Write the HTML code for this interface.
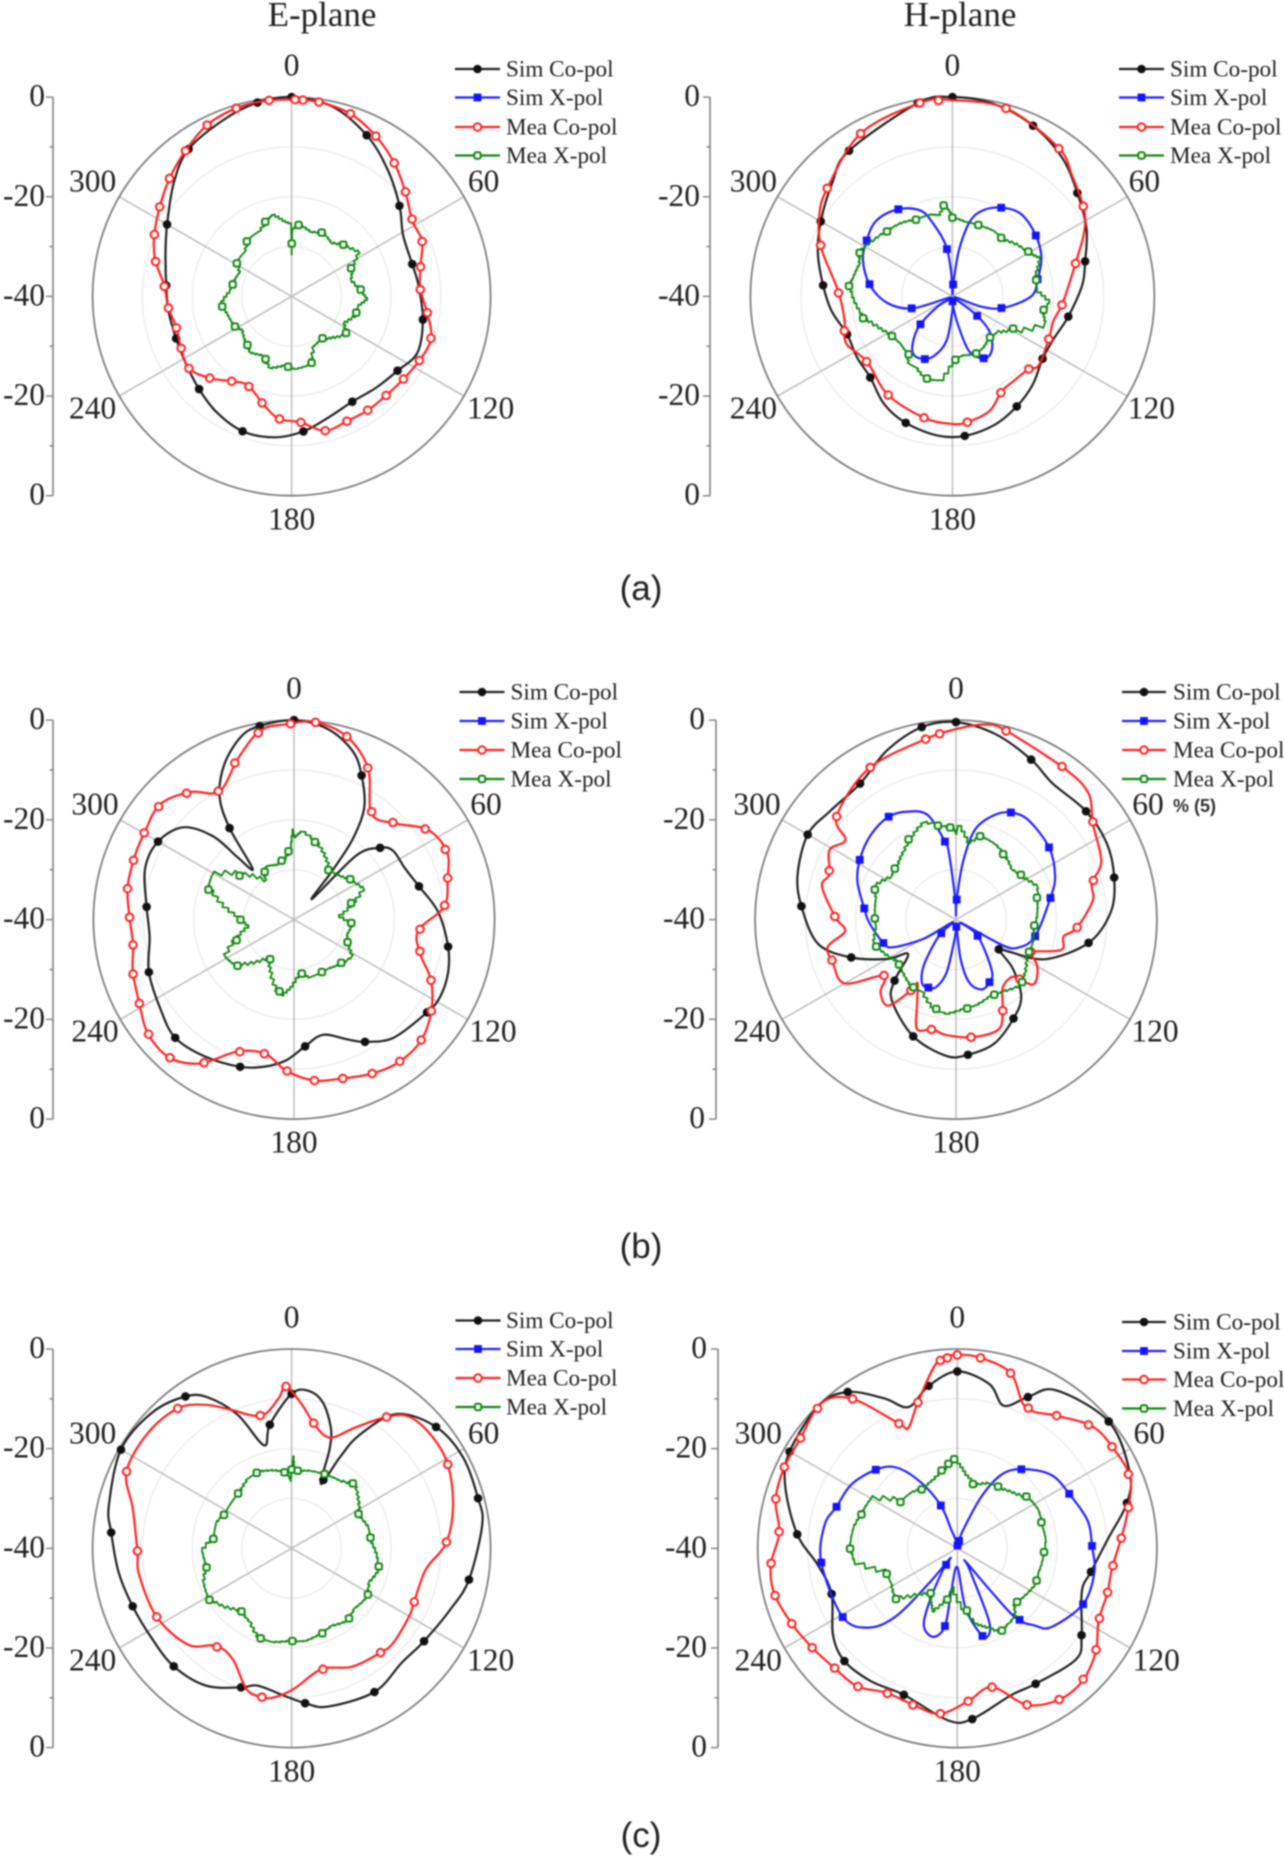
<!DOCTYPE html>
<html>
<head>
<meta charset="utf-8">
<title>E-plane and H-plane radiation patterns</title>
<style>
html,body{margin:0;padding:0;background:#fff;width:1284px;height:1858px;overflow:hidden}
svg{display:block;filter:blur(0.7px)}
text{font-family:"Liberation Serif",serif;fill:#222}
.cap{font-family:"Liberation Sans",sans-serif;font-size:35px;text-anchor:middle;fill:#222}
.title{font-size:35px;text-anchor:middle}
</style>
</head>
<body>
<svg id="fig" xmlns="http://www.w3.org/2000/svg" width="1284" height="1858" viewBox="0 0 1284 1858">
<rect width="1284" height="1858" fill="#fff"/>
<text class="title" x="322" y="26">E-plane</text>
<text class="title" x="960" y="26">H-plane</text>
<text class="cap" x="641" y="600">(a)</text>
<text class="cap" x="641" y="1258">(b)</text>
<text class="cap" x="641" y="1847">(c)</text>
<text x="1173" y="812" style="font-family:'Liberation Sans',sans-serif;font-size:18px;font-weight:bold;fill:#333">% (5)</text>
</svg>
<script>
// Each series: pairs of [angle in degrees, level in dB].
const aSimCo=[[0,0],[12,-1],[25,-4.3],[37,-8],[50,-11.7],[61,-14.4],[75,-14.9],[85,-14.4],[100,-13.2],[114,-12.3],[125,-14],[137,-15],[150,-15.6],[163,-14.6],[175,-12.8],[187,-11.5],[200,-11.2],[213,-12.3],[225,-13.7],[237,-14.8],[250,-15.3],[263,-15.1],[275,-14.7],[289,-13.2],[300,-11.1],[314,-7.1],[325,-3.9],[339,-2],[350,-.5]];
const aMeaCo=[[1,-.5],[8,-.6],[18,-1.5],[28,-3.7],[38,-6.3],[48,-9.1],[58,-11.4],[67,-11.5],[77,-13.4],[87,-14.1],[97,-12.5],[107,-10.7],[117,-11.3],[127,-12.1],[136,-12.5],[146,-12.5],[156,-12.6],[166,-12.2],[176,-14.7],[186,-15.3],[195,-17.7],[206,-20.1],[215,-19.2],[225,-16.8],[235,-14.8],[245,-15.5],[255,-16],[265,-15.1],[275,-14.3],[285,-11.6],[294,-9.8],[304,-8],[314,-5.9],[324,-3.8],[334,-1.6],[344,-.6],[353,-.4]];
const aMeaX=[[0,-31.6],[.3,-28.3],[.6,-26.4],[5.6,-25.6],[15,-26.5],[25.8,-25.8],[35,-26.6],[44.4,-25.4],[55,-23.8],[63,-26.6],[73,-27.6],[84.8,-26],[91,-24.8],[97,-26.5],[104.8,-26.6],[115,-28.2],[124,-26.8],[134,-28.4],[144,-29.6],[155,-29],[164,-25.8],[175,-25.4],[185,-26],[195,-25],[205,-26.8],[215,-26],[224,-27],[234,-28],[243,-27],[253,-26.6],[263,-25.8],[273,-27.5],[283,-28],[293,-28.5],[302,-27],[312,-27],[322,-25.6],[332,-25.4],[342,-23.9],[346,-23.2],[353,-24.8],[359.5,-25.6]];

const bSimCo=[[0,0],[12,-.5],[25,-2.2],[38,-4.7],[50,-7.7],[63,-10.2],[75,-12.8],[85,-14.2],[100,-16.7],[113,-18.2],[125,-18.2],[138,-16.2],[150,-14.5],[162,-12.9],[175,-11.9],[186,-11.9],[200,-13],[212,-14.5],[225,-17],[237,-17.5],[250,-17.8],[263,-15.9],[275,-14.3],[288,-12],[300,-9.9],[314,-7],[325,-4.3],[350,-.6]];
const bSimX=[[0,-39.5],[3,-38],[4,-37.2],[8,-30.6],[13,-24.6],[19,-21.8],[28,-19.8],[39,-18.6],[53,-19.4],[66,-20.7],[78,-22.7],[90,-24.4],[103,-29.7],[110,-34],[118,-39.6],[128,-34.1],[134,-29.7],[144,-26.7],[153,-26],[163,-28.4],[168,-33.4],[174,-37.2],[178,-39.6],[180,-37.2],[187,-31.3],[195,-28.1],[203,-26.3],[213,-26],[220,-27.8],[228,-31.2],[235,-36.2],[240,-39.6],[253,-31.8],[264,-27.1],[278,-23.5],[292,-20.9],[303,-19.7],[315,-18.6],[328,-19.4],[340,-21.7],[346,-25.3],[353,-29.8],[357,-35]];
const bMeaCo=[[0,-.6],[16,-.8],[35,-3.5],[44,-6],[56,-8.6],[64,-11],[75,-14.8],[83,-16.6],[95,-18.3],[104,-19.4],[114,-19.1],[129,-18],[134,-19],[145,-19.1],[153,-18.6],[162,-15.9],[173,-14.6],[180,-14.4],[193,-15],[213,-16.5],[232,-18.6],[245,-17],[252,-17.5],[257,-18.1],[271,-17.6],[280,-15.8],[291,-12.1],[301,-9.2],[311,-7.1],[331,-2.6],[351,-.6]];
const bMeaX=[[0,-24.2],[8,-24.8],[19,-24.8],[30,-24.5],[40,-24.8],[50,-23.4],[60,-22.4],[65,-21.1],[73,-22.8],[79,-23.1],[85,-23.2],[92,-20.8],[99,-21.8],[105,-20.9],[118,-26.3],[127,-28.6],[138,-28.9],[148,-28],[158,-27.6],[168,-28],[177,-27.4],[186,-23],[196,-22.6],[205,-24],[212,-24],[217,-25.6],[226,-26],[236,-25.7],[246,-24],[256,-21.8],[266,-20.5],[276,-19.4],[280,-20],[288,-20.5],[295,-19.6],[305,-20.8],[315,-21.6],[325,-22.2],[334,-23],[344,-23],[350,-23.5],[355,-21.5],[357,-22.6]];

const cSimCo=[[0,0],[10,-1.2],[19,-4.2],[25,-8.1],[32,-13.6],[36,-20.2],[38,-28],[41,-34.5],[44,-22.2],[50,-17.6],[55,-15.9],[65,-15.6],[75,-14.2],[87,-11.2],[100,-8.8],[109,-7.5],[118,-7],[125,-7.6],[140,-9.1],[150,-11.7],[156,-13.7],[166,-16.2],[175,-14.5],[183,-11.8],[191,-10],[200,-8.6],[213,-7.3],[225,-6.5],[236,-7.9],[250,-9.2],[263,-11],[275,-10.5],[289,-8.6],[300,-8.7],[310,-11.2],[316,-16.8],[318,-23.2],[321,-26.9],[325,-17.6],[329,-11.2],[336,-5.9],[344,-1.8],[350,-.6]];
const cMeaCo=[[6,-.2],[16,-1.8],[26,-6.3],[36,-13.7],[46,-12.2],[56,-7.8],[66,-6.6],[75,-8.3],[85,-9.9],[95,-15.1],[105,-14],[114,-10.1],[124,-7],[134,-4.9],[144,-4.6],[153,-5.4],[163,-6.7],[173,-7.5],[183,-9.7],[192,-12.5],[203,-11.3],[213,-5.6],[222,-2.8],[232,-3],[242,-5],[252,-6.2],[261,-7.5],[271,-7.2],[281,-6.2],[292,-5.8],[301,-5.4],[311,-4.7],[321,-7.1],[330,-10.3],[341,-5.8],[350,-1.5],[358,-.8]];
const cMeaX=[[0,-23.5],[4,-22.3],[15,-23.9],[25,-26],[35,-28],[45,-27.3],[54,-26.2],[64,-24.8],[74,-28.2],[84,-31],[94,-28.4],[104,-29],[113,-28.4],[121,-26.3],[134,-27.3],[143,-28],[152,-28.1],[163,-28],[173,-29.2],[181,-26.5],[188,-24.6],[191,-25.2],[202,-28.5],[212,-31],[222,-28],[232,-25],[240,-24.4],[251,-28.1],[260,-30.8],[270,-29.3],[280,-25.5],[290,-21.7],[297,-21.4],[310,-26.4],[322,-30.3],[332,-28],[341,-28.5],[350,-27.8],[357,-25.8],[359,-21.9]];

const dSimCo=[[0,-.4],[12,-2],[25,-4.6],[35,-6.6],[50,-6.2],[63,-6.3],[75,-7.4],[87,-9.1],[100,-13.2],[114,-20.5],[121,-27.3],[125,-29.6],[131,-25],[140,-19.8],[150,-17.1],[163,-14],[175,-12.8],[184,-12.6],[200,-15.1],[218,-19.3],[225,-22.7],[234,-28.2],[240,-24.2],[250,-17.8],[260,-12.1],[275,-9.1],[286,-7.2],[300,-5.9],[311,-6.8],[325,-6.7],[338,-3.4],[350,-.8]];
const dSimX=[[0,-39.2],[2,-36],[7,-28.2],[12,-21.5],[20,-17.7],[27,-15.9],[36,-15.4],[52,-16.5],[66,-18.4],[77,-20.7],[102,-23.9],[114,-26.3],[119,-29.4],[123,-38.8],[127,-34.6],[145,-27.6],[152,-25.8],[160,-25.1],[168,-27],[173,-31.5],[175,-37.3],[178,-39.2],[183,-36.6],[190,-29.3],[196,-26],[202,-25.3],[208,-25.6],[215,-28.9],[226,-35.2],[231,-39.2],[239,-32.7],[246,-26.4],[252,-24.8],[268,-22.7],[277,-21.6],[291,-19],[302,-17.4],[315,-16],[327,-15.4],[336,-16.3],[345,-18.3],[352,-24.2],[354,-26.8],[358,-36]];
const dMeaCo=[[0,-1.8],[9,-.4],[15,-.9],[35,-2.8],[46,-3.4],[55,-6.7],[68,-8.8],[75,-12],[82,-12.5],[94,-15.9],[99,-18.3],[106,-18.1],[112,-23],[114,-24],[120,-21.3],[130,-19.8],[134,-23.2],[137,-24.1],[146,-23.4],[153,-19.5],[159,-16.4],[172,-16.2],[185,-16.8],[192,-17.5],[199.4,-16.7],[204.5,-21.3],[211,-25.1],[212,-23.4],[218,-18.1],[226,-19.1],[232,-21.8],[240,-14.4],[251,-14],[258,-13.9],[264,-17.8],[271,-16],[284,-12.5],[290,-13.2],[299,-11.2],[306,-12.8],[311,-8.5],[330,-5.1],[350,-3.4]];
const dMeaX=[[0,-22.9],[1,-21.2],[8,-24.4],[16,-22.6],[26,-23],[36,-23.9],[46,-25],[56,-24.2],[66,-22.5],[76,-23.4],[85,-23.8],[95,-24.4],[105,-24],[116,-24.1],[126,-22.6],[135,-21.7],[145,-22.8],[155,-23.2],[165,-22.4],[174,-22],[184,-21],[193,-21.7],[203,-24],[213,-24],[223,-25],[233,-25.6],[243,-24.2],[253,-23],[263,-24],[273,-23.8],[283,-23.5],[292,-22.6],[302,-24.5],[312,-24],[321,-22.8],[331,-21.1],[340,-19.5],[351,-21.1],[358,-21.6]];

const eSimCo=[[0,-9],[6,-8.2],[12,-10],[18,-14.5],[21,-18.7],[24.5,-25.8],[28,-19.2],[31,-13.4],[38,-5.8],[50,-2.1],[62,-1],[75,-1.2],[83,-1.4],[100,-3.8],[111,-5.8],[125,-7.5],[136,-8.1],[150,-6.7],[167,-7.4],[175,-8.8],[183,-10.4],[194,-11.6],[200,-10.3],[212,-7.5],[225,-6.5],[237,-6.6],[250,-6],[262,-4.9],[275,-3.6],[283,-2.3],[300,-.4],[314,-.9],[325,-2.8],[331,-5.4],[338,-11.1],[345,-18.6],[350,-14.8]];
const eMeaCo=[[4,-11],[10,-14.5],[19,-16.5],[28,-12.5],[36,-7.4],[42,-4.5],[52,-3.9],[62,-4.4],[75,-6.4],[88,-8.9],[99,-12.7],[114,-13.1],[120,-12.7],[133,-12.1],[140,-12.5],[153,-13.3],[166,-15],[179,-11.8],[187,-9.8],[192,-9.5],[198,-10.4],[208,-14.8],[218,-15.2],[227,-11.6],[243,-9.6],[260,-8.9],[269,-9],[284,-7.1],[295,-3.4],[309,-3],[321,-3.8],[329,-6.4],[336,-9.5],[347,-12.7],[355,-9.8],[358,-7.5]];
const eMeaX=[[0,-24.2],[1,-21.5],[2,-24.5],[12,-24],[24,-23.7],[34,-23.3],[44,-22],[53,-23.5],[63,-24.9],[73,-24],[83,-24],[93,-22.8],[103,-22],[112,-23],[122,-22],[132,-22.5],[142,-21.7],[151,-22.5],[161,-21.8],[170,-21.2],[180,-21.4],[190,-20.8],[199,-20.9],[208,-23],[218,-23.9],[228,-22],[238,-20.5],[247,-21],[257,-22.5],[267,-22],[277,-24.2],[287,-24],[297,-24.9],[306,-24.8],[316,-24.6],[326,-23.5],[336,-23.3],[346,-24],[356,-24.8],[359,-26.5]];

const fSimCo=[[0,-4.5],[11,-6.4],[18,-9.9],[25,-6.5],[32,-2.6],[50,-.4],[66,-2.2],[75,-4.8],[86,-9.6],[100,-12.8],[109,-13.6],[125,-9.6],[133,-7.4],[150,-8.6],[160,-8.6],[175,-5.6],[183,-5.4],[200,-8.7],[213,-8.2],[225,-8],[235,-9.6],[250,-13.2],[263,-11.9],[275,-7.8],[290,-3.3],[300,-1.2],[316,-.1],[325,-1.7],[334,-6.5],[341,-10],[350,-6.9]];
const fSimX=[[0,-39.8],[14,-38.5],[18,-36],[25,-28.5],[31,-22.7],[39.5,-19.4],[52,-16.1],[64.5,-15],[78,-13.3],[89,-13],[100,-12.1],[114,-12.4],[130,-15.4],[135,-18.1],[140,-21.7],[142,-29.2],[148,-36.8],[150,-35.2],[156,-25.1],[159,-21.9],[164,-21.7],[172,-27.7],[180,-36.2],[188,-31.4],[189,-24.2],[195,-21.6],[203,-22.9],[207,-27.2],[213,-34.4],[215,-37.6],[219,-30.9],[222,-21.7],[228,-16.2],[239,-13.2],[264,-12.6],[280,-13],[289,-14.4],[301,-15.2],[314,-17.3],[323,-19.7],[331,-24.8],[339,-30.8],[342,-36],[350,-38.5]];
const fMeaCo=[[0,-1.2],[7,-1.5],[17,-3.3],[26,-8.6],[37,-6.7],[48,-3.5],[58,-2.8],[68,-2.6],[78,-5.1],[87,-7.2],[97,-8.7],[107,-8.6],[117,-8.2],[127,-5.3],[137,-3.4],[146,-3.4],[156,-5.6],[166,-11.3],[176,-9.2],[186,-6.6],[195,-7.3],[206,-7.7],[216,-5.8],[226,-5.6],[235,-4.8],[245,-3.6],[256,-2.2],[265,-2.5],[275,-4.2],[285,-2.3],[295,-1.7],[305,-1.6],[317,-.1],[325,-3.4],[335,-12.4],[338,-13.9],[345,-9.6],[354,-2.3]];
const fMeaX=[[0,-23],[6,-25.2],[14,-26.8],[24,-25.5],[35,-25.1],[45,-24],[55,-22.4],[63,-22],[74,-22.4],[82,-22.2],[95,-22.7],[105,-23],[114,-22.8],[124,-23.5],[134,-24],[139,-22],[152,-21.2],[158,-23],[165,-24.4],[172,-27.7],[185,-32.2],[192,-29.1],[200,-26.4],[205,-28],[211,-29.6],[220,-27.5],[230,-24],[240,-25],[250,-25],[261,-19.2],[270,-18.5],[280,-18.8],[289,-19.6],[298,-20],[309,-25.3],[319,-25.5],[329,-26.2],[339,-25.4],[349,-24],[358,-22.1]];

const radialTickLabels=["0","-20","-40","-20","0"];
const angleTickLabels=["0","60","120","180","240","300"];
const gridLevels=[-10,-20,-30];
const legendLabels=["Sim Co-pol","Sim X-pol","Mea Co-pol","Mea X-pol"];

const SVGNS="http://www.w3.org/2000/svg";
const fig=document.getElementById("fig");
const LINE={simCo:"#222222",simX:"#2222ff",meaCo:"#ff2222",meaX:"#118811"};
const panels=[
 {id:"a-e",cx:291.6,cy:296.4,rx:199,ry:199.3,ax:53,lab:45,lg:[455,500,506],ly:[69,97.5,127,155.5],
  s:[["simCo",aSimCo,0,25],["meaCo",aMeaCo,8,9.87,[1]],["meaX",aMeaX,5.6,19.7]]},
 {id:"a-h",cx:952.4,cy:296.4,rx:202,ry:199.3,ax:710,lab:700,lg:[1119,1164,1170],ly:[69,97.5,127,155.5],
  s:[["simCo",bSimCo,0,25],["simX",bSimX,3.5,25],["meaCo",bMeaCo,-4,19.7],["meaX",bMeaX,0,19.7]]},
 {id:"b-e",cx:294,cy:919.6,rx:200.6,ry:199.5,ax:53,lab:45,lg:[459.5,504.5,510.5],ly:[692,721,750,779],
  s:[["simCo",cSimCo,0,25],["meaCo",cMeaCo,6.2,9.8],["meaX",cMeaX,-4.6,19.6]]},
 {id:"b-h",cx:956,cy:919.6,rx:200.9,ry:199.5,ax:716,lab:705,lg:[1122,1166,1173],ly:[692,721,750,779],
  s:[["simCo",dSimCo,0,25],["simX",dSimX,2,25],["meaCo",dMeaCo,-5,19.75],["meaX",dMeaX,-3.6,19.6]]},
 {id:"c-e",cx:291.6,cy:1548.3,rx:199,ry:199.3,ax:53,lab:45,lg:[455.5,500.5,506],ly:[1320.5,1349,1378,1407],
  s:[["simCo",eSimCo,0,25],["meaCo",eMeaCo,10,25.9,[358]],["meaX",eMeaX,4.5,19.45,[0]]]},
 {id:"c-h",cx:957.3,cy:1548.3,rx:199.6,ry:199.3,ax:718,lab:707,lg:[1122,1166,1173],ly:[1322,1351,1379.5,1408.5],
  s:[["simCo",fSimCo,0,25],["simX",fSimX,14,25],["meaCo",fMeaCo,-3,9.94,[0]],["meaX",fMeaX,-6,19.7,[358]]]}
];

function mk(tag,attrs,parent){
  const n=document.createElementNS(SVGNS,tag);
  for(const k in attrs)n.setAttribute(k,attrs[k]);
  parent.appendChild(n);
  return n;
}
function radial(db){return (db+40)/40;}
function polar(p,deg,r){
  const t=deg*Math.PI/180;
  return [p.cx+p.rx*r*Math.sin(t),p.cy-p.ry*r*Math.cos(t)];
}
function levelAt(data,deg){
  const d=((deg%360)+360)%360;
  const n=data.length;
  for(let i=0;i<n;i++){
    const a=data[i],b=data[(i+1)%n];
    const a0=a[0];let b0=b[0];if(i===n-1)b0+=360;
    let q=d;if(i===n-1&&q<a0)q+=360;
    if(q>=a0&&q<=b0){
      const t=b0===a0?0:(q-a0)/(b0-a0);
      return a[1]+t*(b[1]-a[1]);
    }
  }
  return data[0][1];
}
function smoothPath(pts){
  const n=pts.length;
  let s="M"+pts[0][0].toFixed(1)+" "+pts[0][1].toFixed(1);
  for(let i=0;i<n;i++){
    const p0=pts[(i-1+n)%n],p1=pts[i],p2=pts[(i+1)%n],p3=pts[(i+2)%n];
    const c1=[p1[0]+(p2[0]-p0[0])/6,p1[1]+(p2[1]-p0[1])/6];
    const c2=[p2[0]-(p3[0]-p1[0])/6,p2[1]-(p3[1]-p1[1])/6];
    s+="C"+c1[0].toFixed(1)+" "+c1[1].toFixed(1)+" "+c2[0].toFixed(1)+" "+c2[1].toFixed(1)+" "+p2[0].toFixed(1)+" "+p2[1].toFixed(1);
  }
  return s+"Z";
}
function stairPath(p,data){
  const n=data.length,out=[];
  for(let i=0;i<n;i++){
    const a=data[i],b=data[(i+1)%n];
    const a0=a[0],b0=i===n-1?b[0]+360:b[0];
    const r0=radial(a[1]),r1=radial(b[1]);
    let prev=r0;
    out.push(polar(p,a0,r0));
    for(let j=1;j<=3;j++){
      const t=j/3,th=a0+t*(b0-a0),r=r0+t*(r1-r0);
      out.push(polar(p,th,prev));
      out.push(polar(p,th,r));
      prev=r;
    }
  }
  return "M"+out.map(q=>q[0].toFixed(1)+" "+q[1].toFixed(1)).join("L")+"Z";
}
function drawMarker(kind,x,y,parent){
  if(kind==="simCo")return mk("circle",{cx:x,cy:y,r:4.3,fill:"#111"},parent);
  if(kind==="simX")return mk("rect",{x:x-3.9,y:y-3.9,width:7.8,height:7.8,fill:"#1414ff"},parent);
  if(kind==="meaCo")return mk("circle",{cx:x,cy:y,r:3.8,fill:"#fff",stroke:"#ff2222","stroke-width":2},parent);
  return mk("rect",{x:x-3.2,y:y-3.2,width:6.4,height:6.4,rx:1.8,fill:"#fff",stroke:"#118811","stroke-width":2},parent);
}

panels.forEach(function(p){
  const g=mk("g",{},fig);
  
  

  gridLevels.forEach(function(lv){
    const c=mk("ellipse",{cx:p.cx,cy:p.cy,rx:p.rx*radial(lv),ry:p.ry*radial(lv),fill:"none",stroke:"#ececec","stroke-width":1.4},g);
    
    
  });
  [0,60,120].forEach(function(deg){
    const a=polar(p,deg,1),b=polar(p,deg+180,1);
    const l=mk("line",{x1:a[0],y1:a[1],x2:b[0],y2:b[1],stroke:"#bcbcbc","stroke-width":1.5},g);
    
    
  });
  const rim=mk("ellipse",{cx:p.cx,cy:p.cy,rx:p.rx,ry:p.ry,fill:"none",stroke:"#808080","stroke-width":1.8},g);
  
  

  // radial axis
  const axis=mk("line",{x1:p.ax,y1:p.cy-p.ry,x2:p.ax,y2:p.cy+p.ry,stroke:"#808080","stroke-width":1.6},g);
  
  
  for(let i=0;i<=8;i++){
    const y=p.cy-p.ry+i*p.ry/4,major=i%2===0;
    const t=mk("line",{x1:p.ax-(major?7:3.5),y1:y,x2:p.ax,y2:y,stroke:"#808080","stroke-width":1.4},g);
    
    
  }
  radialTickLabels.forEach(function(s,i){
    const y=p.cy-p.ry+i*p.ry/2;
    const t=mk("text",{x:p.lab,y:y+9,"text-anchor":"end","font-size":31.5},g);
    t.textContent=s;
    
    
  });
  const off=[[0,-230],[192,-114],[199,113],[0,224],[-199,113],[-199,-114]];
  angleTickLabels.forEach(function(s,i){
    const t=mk("text",{x:p.cx+off[i][0],y:p.cy+off[i][1]+9,"text-anchor":"middle","font-size":31.5},g);
    t.textContent=s;
    
    
  });

  // series
  p.s.forEach(function(sr){
    const kind=sr[0],data=sr[1],start=sr[2],step=sr[3],also=sr[4]||[];
    const d=kind==="meaX"?stairPath(p,data):smoothPath(data.map(q=>polar(p,q[0],radial(q[1]))));
    const sg=mk("g",{},g);
    
    
    const path=mk("path",{d:d,fill:"none",stroke:LINE[kind],"stroke-width":kind==="meaX"?1.8:2.2,"stroke-linejoin":"round"},sg);
    
    
    const marks=also.slice();
    for(let a=start;a<start+359.9;a+=step)marks.push(a);
    marks.forEach(function(a){
      const q=polar(p,a,radial(levelAt(data,a)));
      const m=drawMarker(kind,q[0],q[1],sg);
      
      
    });
  });

  // legend
  ["simCo","simX","meaCo","meaX"].forEach(function(kind,i){
    const y=p.ly[i];
    const lg=mk("g",{},g);
    
    
    mk("line",{x1:p.lg[0],y1:y,x2:p.lg[1],y2:y,stroke:LINE[kind],"stroke-width":2.2},lg);
    drawMarker(kind,(p.lg[0]+p.lg[1])/2,y,lg);
    const t=mk("text",{x:p.lg[2],y:y+7.5,"font-size":23.2},lg);
    t.textContent=legendLabels[i];
    
    
  });
});
</script>
</body>
</html>
